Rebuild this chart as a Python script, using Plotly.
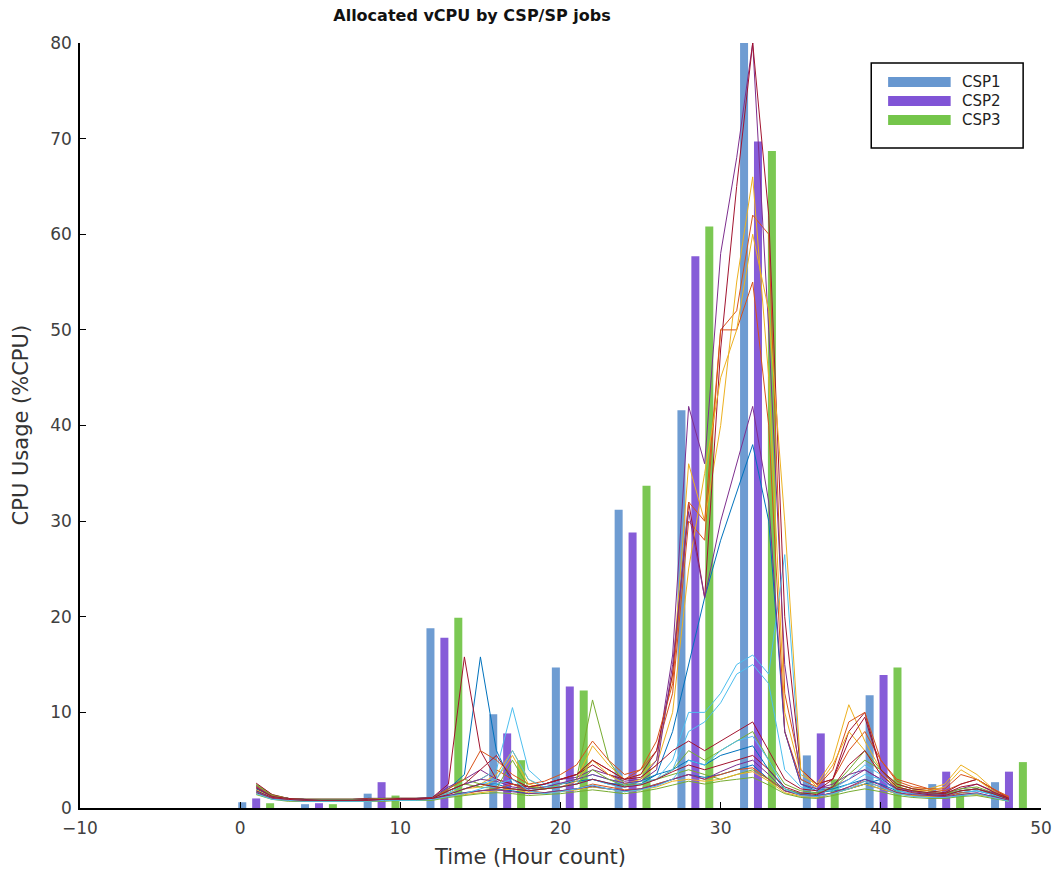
import plotly.graph_objects as go

# ---------------- data ----------------
group_hours = [1, 4.92, 8.83, 12.75, 16.67, 20.58, 24.5, 28.42, 32.33, 36.25, 40.17, 44.08, 48]
csp1 = [0.6, 0.4, 1.5, 18.8, 9.8, 14.7, 31.2, 41.6, 80.0, 5.5, 11.8, 2.5, 2.7]
csp2 = [1.0, 0.5, 2.7, 17.8, 7.8, 12.7, 28.8, 57.7, 69.7, 7.8, 13.9, 3.8, 3.8]
csp3 = [0.5, 0.4, 1.3, 19.9, 5.0, 12.3, 33.7, 60.8, 68.7, 3.0, 14.7, 1.5, 4.8]
series_names = ["CSP1", "CSP2", "CSP3"]

hours = list(range(1, 49))

job01 = [2.4,1.3,1.0,0.9,0.9,0.9,0.9,1.0,1.0,1.0,1.0,1.1,
         2.0,3.5,15.8,6.0,2.5,2.0,2.2,2.5,2.8,3.0,2.6,2.4,
         2.8,3.5,4.0,5.0,4.5,5.5,6.0,6.5,4.0,2.0,1.5,1.6,
         1.8,2.0,2.5,3.0,2.0,1.8,1.5,1.4,1.8,2.0,1.5,1.0]
job02 = [2.2,1.2,1.0,0.9,0.9,0.9,0.9,0.9,1.0,1.0,1.0,1.0,
         1.8,2.5,3.0,4.0,3.0,2.2,2.5,3.0,3.5,5.0,4.0,3.0,
         4.0,6.0,12.0,30.0,28.0,50.0,52.0,62.0,60.0,12.0,4.0,2.5,
         3.0,6.0,8.0,5.0,3.0,2.5,2.0,1.8,2.5,3.0,2.0,1.2]
job03 = [2.0,1.2,1.0,0.9,0.9,0.9,0.9,0.9,0.9,1.0,1.0,1.0,
         1.6,2.0,2.5,3.5,6.0,3.0,2.0,2.5,3.0,6.5,4.5,3.0,
         3.5,5.0,14.0,36.0,30.0,40.0,55.0,66.0,45.0,10.0,3.5,2.5,
         5.0,10.8,7.0,4.0,2.5,2.0,2.0,2.5,4.5,3.5,2.0,1.0]
job04 = [2.3,1.3,1.0,0.9,0.9,0.9,0.9,1.0,1.0,1.0,1.0,1.1,
         2.2,3.0,4.0,3.0,2.5,2.0,2.5,3.0,3.2,4.0,3.5,2.8,
         3.0,5.0,16.0,42.0,36.0,58.0,68.0,80.0,50.0,15.0,3.0,2.0,
         2.2,3.0,4.0,3.0,2.0,1.8,1.5,1.5,2.0,2.5,1.8,1.0]
job05 = [2.5,1.4,1.0,0.9,0.9,0.9,0.9,0.9,1.0,1.0,1.0,1.0,
         2.0,3.0,2.5,2.2,2.0,1.8,2.0,2.5,3.0,11.3,5.0,2.5,
         2.5,3.0,3.5,4.0,3.5,3.0,3.5,4.0,3.0,2.0,1.5,1.5,
         2.0,3.5,5.0,4.0,2.5,2.0,1.8,1.6,2.0,2.2,1.6,1.0]
job06 = [2.1,1.2,1.0,0.9,0.9,0.9,0.9,0.9,0.9,1.0,1.0,1.0,
         1.6,2.5,3.0,4.0,10.5,4.0,2.5,2.5,3.0,3.5,3.0,2.5,
         2.8,3.0,5.0,10.0,10.0,12.0,15.0,16.0,14.0,26.5,3.0,2.0,
         2.0,3.0,4.5,3.5,2.0,1.8,1.5,1.4,1.8,2.0,1.5,0.9]
job07 = [2.6,1.4,1.0,0.9,0.9,0.9,0.9,1.0,1.0,1.0,1.0,1.1,
         2.5,15.8,6.0,3.0,2.5,2.2,2.5,3.0,3.5,4.5,3.5,3.0,
         3.5,6.0,14.0,32.0,22.0,48.0,65.0,80.0,62.0,20.0,4.0,2.5,
         3.0,8.0,10.0,4.0,2.5,2.0,1.8,1.6,2.5,3.0,2.0,1.0]
job08 = [2.0,1.2,1.0,0.9,0.8,0.8,0.8,0.9,0.9,0.9,1.0,1.0,
         1.5,2.0,2.5,2.5,2.0,1.8,2.0,2.2,2.5,3.0,2.5,2.2,
         2.5,3.5,8.0,15.0,22.0,28.0,33.0,38.0,30.0,8.0,2.5,1.8,
         2.0,2.5,3.0,2.5,1.8,1.5,1.4,1.3,1.6,1.8,1.4,0.9]
job09 = [2.3,1.3,1.0,0.9,0.9,0.9,0.9,0.9,1.0,1.0,1.0,1.0,
         2.0,3.0,6.0,5.0,3.5,2.5,2.8,3.5,4.5,7.0,5.0,3.5,
         4.0,7.0,13.0,32.0,30.0,50.0,50.0,55.0,40.0,8.0,3.0,2.2,
         4.0,9.0,10.0,5.0,2.8,2.2,2.0,2.0,3.5,3.0,2.0,1.1]
job10 = [1.9,1.1,0.9,0.8,0.8,0.8,0.8,0.9,0.9,0.9,0.9,1.0,
         1.5,2.0,2.2,3.0,5.5,2.5,2.0,2.2,2.8,5.0,3.5,2.5,
         3.0,4.5,10.0,25.0,35.0,45.0,50.0,60.0,52.0,30.0,4.0,2.2,
         4.5,8.0,6.0,3.5,2.2,1.8,1.8,2.2,4.0,3.0,1.8,0.9]
job11 = [2.2,1.2,1.0,0.9,0.8,0.8,0.8,0.9,0.9,1.0,1.0,1.0,
         1.8,2.5,3.0,2.8,2.2,2.0,2.2,2.6,3.0,3.5,3.0,2.6,
         2.8,4.0,15.0,31.0,22.0,30.0,36.0,42.0,32.0,8.0,2.5,2.0,
         2.5,3.5,4.0,3.0,2.0,1.7,1.5,1.4,1.8,2.0,1.6,1.0]
job12 = [2.4,1.3,1.0,0.9,0.9,0.9,0.9,0.9,1.0,1.0,1.0,1.0,
         1.8,2.5,2.2,2.0,5.0,2.2,2.0,2.2,2.5,4.0,3.0,2.3,
         2.5,3.0,4.0,6.0,5.0,6.0,7.0,8.0,5.0,2.5,1.8,1.6,
         2.2,4.0,6.0,4.0,2.2,1.8,1.6,1.5,1.8,2.0,1.5,0.9]
job13 = [1.8,1.1,0.9,0.8,0.8,0.8,0.8,0.8,0.9,0.9,0.9,1.0,
         1.5,2.0,2.5,3.0,6.0,3.0,2.2,2.2,2.5,3.0,2.5,2.2,
         2.5,3.0,4.0,8.0,9.0,11.0,14.0,15.0,13.0,4.0,2.2,1.8,
         1.8,2.5,3.5,3.0,1.8,1.5,1.4,1.3,1.6,1.8,1.4,0.8]
job14 = [2.1,1.2,1.0,0.9,0.8,0.8,0.8,0.9,0.9,1.0,1.0,1.0,
         1.8,2.5,4.0,5.5,3.0,2.2,2.5,3.0,3.5,5.0,4.0,3.0,
         3.2,4.5,6.0,7.0,6.0,7.0,8.0,9.0,6.0,3.0,2.0,1.8,
         3.0,7.0,9.5,4.0,2.2,1.8,1.6,1.5,2.2,2.5,1.7,1.0]
job15 = [1.7,1.0,0.8,0.8,0.8,0.8,0.8,0.8,0.8,0.9,0.9,0.9,
         1.3,1.6,1.8,2.0,1.8,1.5,1.6,1.8,2.0,2.2,2.0,1.8,
         2.0,2.5,3.0,3.5,3.2,3.5,4.0,4.5,3.0,1.8,1.4,1.3,
         1.5,2.0,2.5,2.0,1.5,1.3,1.2,1.1,1.3,1.5,1.2,0.8]
job16 = [1.6,1.0,0.8,0.7,0.7,0.7,0.7,0.8,0.8,0.8,0.9,0.9,
         1.2,1.5,1.8,2.0,2.5,1.8,1.6,1.8,2.0,2.5,2.2,1.9,
         2.0,2.5,3.0,3.5,3.0,3.5,4.0,4.2,3.0,1.8,1.3,1.2,
         1.6,2.2,2.8,2.2,1.6,1.3,1.2,1.2,1.6,1.5,1.2,0.8]
job17 = [1.5,1.0,0.8,0.7,0.7,0.7,0.7,0.7,0.8,0.8,0.8,0.9,
         1.2,1.4,1.6,1.8,2.0,1.6,1.5,1.7,1.9,2.2,2.0,1.7,
         1.9,2.2,2.8,3.0,2.8,3.0,3.5,3.8,2.8,1.6,1.2,1.1,
         1.5,2.0,2.5,2.0,1.5,1.3,1.2,1.1,1.4,1.4,1.1,0.7]
job18 = [1.6,1.0,0.8,0.7,0.7,0.7,0.7,0.8,0.8,0.8,0.9,0.9,
         1.3,1.6,1.8,1.9,1.7,1.5,1.6,1.8,2.0,2.3,2.0,1.8,
         2.0,2.4,3.0,3.5,3.0,3.8,4.5,5.0,3.5,1.8,1.4,1.2,
         1.6,2.2,3.0,2.4,1.6,1.4,1.3,1.2,1.4,1.6,1.2,0.8]
job19 = [1.4,0.9,0.7,0.7,0.7,0.7,0.7,0.7,0.7,0.8,0.8,0.8,
         1.1,1.3,1.5,1.6,1.5,1.3,1.4,1.5,1.7,1.9,1.7,1.5,
         1.7,2.0,2.4,2.8,2.5,2.8,3.0,3.2,2.4,1.5,1.1,1.0,
         1.3,1.7,2.0,1.7,1.3,1.1,1.0,1.0,1.2,1.3,1.0,0.7]
job20 = [1.5,0.9,0.8,0.7,0.7,0.7,0.7,0.7,0.8,0.8,0.8,0.9,
         1.2,1.5,2.0,2.5,3.0,1.8,1.5,1.7,2.0,2.4,2.0,1.7,
         1.9,2.3,3.0,5.0,4.5,6.0,7.0,7.5,5.0,2.0,1.3,1.2,
         1.5,2.0,2.8,2.2,1.5,1.2,1.1,1.1,1.3,1.5,1.1,0.7]
job21 = [1.8,1.1,0.9,0.8,0.8,0.8,0.8,0.8,0.9,0.9,0.9,1.0,
         1.4,2.0,2.5,2.2,2.0,1.8,2.0,2.2,2.5,3.0,2.6,2.2,
         2.4,3.0,3.8,4.5,4.0,4.5,5.0,5.5,4.0,2.2,1.6,1.4,
         2.2,4.5,6.0,3.5,2.0,1.6,1.4,1.3,1.8,2.0,1.5,0.9]

jobs = [job01, job02, job03, job04, job05, job06, job07, job08, job09, job10, job11,
        job12, job13, job14, job15, job16, job17, job18, job19, job20, job21]

# ---------------- style ----------------
bar_colors = ["#6797d0", "#8054d6", "#74c54a"]
line_colors = ["#0072BD", "#D95319", "#EDB120", "#7E2F8E", "#77AC30", "#4DBEEE", "#A2142F"]
FONT = "DejaVu Sans, Verdana, sans-serif"

# plot area in pixels (used only to place legend / labels in paper units)
PX_L, PX_R, PX_T, PX_B = 80, 1048, 43, 808
def px_x(p):
    return (p - PX_L) / (PX_R - PX_L)
def px_y(p):
    return (PX_B - p) / (PX_B - PX_T)

fig = go.Figure()

for name, vals, col in zip(series_names, [csp1, csp2, csp3], bar_colors):
    fig.add_trace(go.Bar(x=group_hours, y=vals, name=name,
                         marker=dict(color=col, line=dict(width=0)),
                         opacity=0.95, showlegend=False))

for i, vals in enumerate(jobs):
    fig.add_trace(go.Scatter(x=hours, y=vals, mode="lines",
                             line=dict(color=line_colors[i % len(line_colors)], width=1),
                             showlegend=False, hoverinfo="skip"))

fig.update_layout(
    width=1064, height=869,
    margin=dict(l=PX_L, r=1064 - PX_R, t=PX_T, b=869 - PX_B),
    paper_bgcolor="white", plot_bgcolor="white",
    barmode="group", bargap=0.333, bargroupgap=0.425,
    font=dict(family=FONT, size=18, color="#333333"),
    title=dict(text="<b>Allocated vCPU by CSP/SP jobs</b>", x=472 / 1064, xanchor="center",
               xref="container", y=1 - 15 / 869, yanchor="middle", yref="container",
               font=dict(family=FONT, size=16, color="#111111")),
    showlegend=False,
)

fig.update_xaxes(range=[-10, 50], tickvals=[-10, 0, 10, 20, 30, 40, 50],
                 ticks="inside", ticklen=6, tickcolor="black", showline=True,
                 linecolor="black", linewidth=1.5, showgrid=False, zeroline=False,
                 ticklabelstandoff=4,
                 tickfont=dict(family=FONT, size=17, color="#404040"))
fig.update_yaxes(range=[0, 80], tickvals=[0, 10, 20, 30, 40, 50, 60, 70, 80],
                 ticks="inside", ticklen=6, tickcolor="black", showline=True,
                 linecolor="black", linewidth=1.5, showgrid=False, zeroline=False,
                 ticklabelstandoff=3,
                 tickfont=dict(family=FONT, size=17, color="#404040"))

# axis titles
fig.add_annotation(text="Time (Hour count)", xref="paper", yref="paper",
                   x=px_x(533), y=px_y(857), showarrow=False,
                   xanchor="center", yanchor="middle",
                   font=dict(family=FONT, size=21, color="#333333"))
fig.add_annotation(text="CPU Usage (%CPU)", xref="paper", yref="paper",
                   x=px_x(21), y=px_y(425), showarrow=False, textangle=-90,
                   xanchor="center", yanchor="middle",
                   font=dict(family=FONT, size=21, color="#333333"))

# legend box (MATLAB style, wide colour patches)
fig.add_shape(type="rect", xref="paper", yref="paper",
              x0=px_x(877), x1=px_x(1030), y0=px_y(148), y1=px_y(63),
              line=dict(color="black", width=1.5), fillcolor="white", layer="above")
legend_rows = [82, 101, 120]
for name, col, row in zip(series_names, bar_colors, legend_rows):
    fig.add_shape(type="rect", xref="paper", yref="paper",
                  x0=px_x(894), x1=px_x(957), y0=px_y(row + 5), y1=px_y(row - 5),
                  line=dict(width=0), fillcolor=col, layer="above")
    fig.add_annotation(text=name, xref="paper", yref="paper",
                       x=px_x(966), y=px_y(row), showarrow=False,
                       xanchor="left", yanchor="middle",
                       font=dict(family=FONT, size=15, color="#222222"))

fig.write_html("out.html")
